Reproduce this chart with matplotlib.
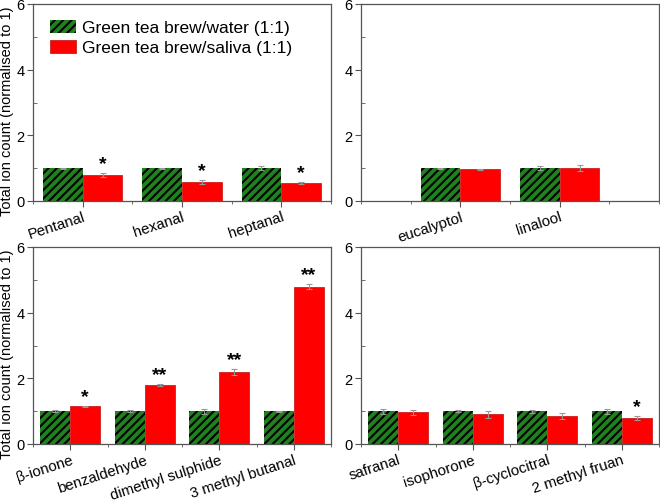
import matplotlib
matplotlib.use("Agg")
import matplotlib.pyplot as plt
from matplotlib.ticker import MultipleLocator
import numpy as np

plt.rcParams['font.family'] = ['Liberation Sans', 'DejaVu Sans']
plt.rcParams['hatch.linewidth'] = 1.5

legend_labels = ["Green tea brew/water (1:1)", "Green tea brew/saliva (1:1)"]

cats_a = ["Pentanal", "hexanal", "heptanal"]
water_a = [1.0, 1.0, 1.0]
water_err_a = [0.02, 0.02, 0.07]
saliva_a = [0.79, 0.59, 0.56]
saliva_err_a = [0.05, 0.06, 0.03]
sig_a = ["*", "*", "*"]

cats_b = ["eucalyptol", "linalool"]
water_b = [1.0, 1.0]
water_err_b = [0.02, 0.07]
saliva_b = [0.96, 1.0]
saliva_err_b = [0.01, 0.10]
sig_b = ["", ""]

cats_c = ["β-ionone", "benzaldehyde", "dimethyl sulphide", "3 methyl butanal"]
water_c = [1.0, 1.0, 1.0, 1.0]
water_err_c = [0.03, 0.03, 0.08, 0.02]
saliva_c = [1.15, 1.79, 2.19, 4.79]
saliva_err_c = [0.02, 0.03, 0.08, 0.08]
sig_c = ["*", "**", "**", "**"]

cats_d = ["safranal", "isophorone", "β-cyclocitral", "2 methyl fruan"]
water_d = [1.0, 1.0, 1.0, 1.0]
water_err_d = [0.08, 0.04, 0.05, 0.08]
saliva_d = [0.96, 0.90, 0.86, 0.79]
saliva_err_d = [0.07, 0.12, 0.09, 0.06]
sig_d = ["", "", "", "*"]

GREEN = "#1f821f"
RED = "#ff0000"
SPINE = "#555555"

fig = plt.figure(figsize=(6.6, 5.02), dpi=100)
W, H = 660, 502
def rect(l, r, t, b):
    return [l / W, 1 - b / H, (r - l) / W, (b - t) / H]

ax_a = fig.add_axes(rect(33, 331, 5, 202))
ax_b = fig.add_axes(rect(361, 659, 5, 202))
ax_c = fig.add_axes(rect(33, 331, 248, 445))
ax_d = fig.add_axes(rect(361, 659, 248, 445))

def draw(ax, cats, water, werr, saliva, serr, sig, xlim, ylabel=False, legend=False):
    x = np.arange(1, len(cats) + 1)
    w = 0.4
    ax.bar(x - w / 2, water, w, color=GREEN, edgecolor="black", linewidth=0,
           hatch="////", label=legend_labels[0])
    ax.bar(x + w / 2, saliva, w, color=RED, edgecolor="#cc2020", linewidth=0.6,
           label=legend_labels[1])
    ax.errorbar(x - w / 2, water, yerr=werr, fmt="none", ecolor="#999999",
                elinewidth=0.8, capsize=2, capthick=0.8)
    ax.errorbar(x + w / 2, saliva, yerr=serr, fmt="none", ecolor="#999999",
                elinewidth=0.8, capsize=2, capthick=0.8)
    for xi, v, e, s in zip(x, saliva, serr, sig):
        if s:
            ax.text(xi + w / 2, v + e + 0.03, s, ha="center", va="bottom",
                    fontsize=14, fontweight="bold")
    ax.set_xlim(*xlim)
    ax.set_ylim(0, 6)
    ax.set_yticks([0, 2, 4, 6])
    ax.yaxis.set_minor_locator(MultipleLocator(1))
    ax.set_xticks(x)
    ax.set_xticks(np.arange(xlim[0], xlim[1] + 0.01, 0.5), minor=True)
    ax.set_xticklabels(cats, rotation=18, ha="right", rotation_mode="anchor", fontsize=10.8)
    ax.tick_params(axis="y", labelsize=10.5, direction="out", length=4, color=SPINE, width=0.8, pad=2)
    ax.tick_params(axis="y", which="minor", direction="in", length=3, color=SPINE)
    ax.tick_params(axis="x", which="major", length=4, color=SPINE, width=0.8, pad=2)
    ax.tick_params(axis="x", which="minor", length=2, color=SPINE)
    for sp in ax.spines.values():
        sp.set_color(SPINE)
        sp.set_linewidth(0.9)
    if ylabel:
        ax.set_ylabel("Total ion count (normalised to 1)", fontsize=10.5)
        ax.yaxis.set_label_coords(-0.064, 0.46)
    if legend:
        ax.legend(loc="upper left", frameon=False, fontsize=12.5, handlelength=1.5,
                  handleheight=0.8, borderaxespad=0.0, labelspacing=0.25,
                  handletextpad=0.35, bbox_to_anchor=(0.035, 0.955))

draw(ax_a, cats_a, water_a, water_err_a, saliva_a, saliva_err_a, sig_a, (0.5, 3.5), ylabel=True, legend=True)
draw(ax_b, cats_b, water_b, water_err_b, saliva_b, saliva_err_b, sig_b, (0.0, 3.0))
draw(ax_c, cats_c, water_c, water_err_c, saliva_c, saliva_err_c, sig_c, (0.5, 4.5), ylabel=True)
draw(ax_d, cats_d, water_d, water_err_d, saliva_d, saliva_err_d, sig_d, (0.5, 4.5))

fig.savefig("out.png", dpi=100)
